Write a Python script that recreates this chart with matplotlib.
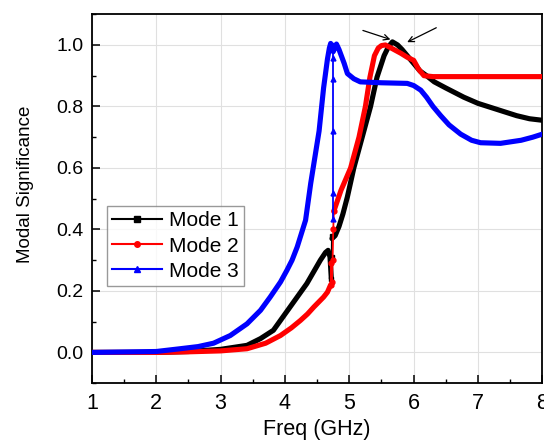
import numpy as np
import matplotlib
matplotlib.use("Agg")
import matplotlib.pyplot as plt
from matplotlib.lines import Line2D
from matplotlib.ticker import MultipleLocator

plt.rcParams['font.family'] = ['Liberation Sans', 'DejaVu Sans']

# ---- data ----
mode1_f = [1.0, 2.0, 2.5, 3.0, 3.41, 3.62, 3.82, 4.08, 4.34, 4.55, 4.63, 4.67, 4.70, 4.72,
           4.73, 4.78, 4.84, 4.90, 4.97, 5.07, 5.20, 5.33, 5.43, 5.54, 5.61, 5.67, 5.75, 5.82,
           5.9, 6.0, 6.1, 6.2, 6.32, 6.5, 6.78, 7.0, 7.3, 7.6, 7.8, 8.0]
mode1_y = [0.0, 0.0, 0.003, 0.01, 0.023, 0.045, 0.072, 0.148, 0.224, 0.30, 0.325, 0.332, 0.31, 0.24,
           0.37, 0.38, 0.41, 0.45, 0.506, 0.60, 0.70, 0.80, 0.895, 0.965, 0.995, 1.01, 1.0, 0.985,
           0.965, 0.94, 0.915, 0.90, 0.88, 0.86, 0.83, 0.81, 0.79, 0.77, 0.76, 0.755]

mode2_f = [1.0, 2.0, 2.5, 3.0, 3.41, 3.7, 3.93, 4.1, 4.24, 4.35, 4.45, 4.6, 4.66, 4.71,
           4.76, 4.87, 5.02, 5.15, 5.25, 5.32, 5.39, 5.45, 5.5, 5.56, 5.65, 5.8, 5.9, 6.0,
           6.08, 6.16, 6.3, 7.0, 8.0]
mode2_y = [0.0, 0.0, 0.002, 0.005, 0.012, 0.03, 0.055, 0.08, 0.104, 0.125, 0.148, 0.18, 0.196, 0.22,
           0.46, 0.527, 0.60, 0.70, 0.80, 0.895, 0.965, 0.99, 0.998, 1.0, 0.99, 0.973, 0.96, 0.95,
           0.92, 0.90, 0.897, 0.897, 0.897]

mode3_f = [1.0, 2.0, 2.37, 2.65, 2.89, 3.15, 3.41, 3.62, 3.77, 3.93, 4.03, 4.11, 4.19, 4.32, 4.4,
           4.53, 4.6, 4.66, 4.69, 4.71, 4.75, 4.8, 4.84, 4.92, 4.97, 5.07, 5.17, 5.5, 5.9,
           6.0, 6.11, 6.2, 6.3, 6.42, 6.55, 6.73, 6.9, 7.04, 7.35, 7.67, 7.85, 8.0]
mode3_y = [0.0, 0.003, 0.012, 0.019, 0.03, 0.055, 0.093, 0.137, 0.18, 0.229, 0.267, 0.30, 0.343, 0.43, 0.55,
           0.72, 0.86, 0.954, 0.99, 1.005, 0.978, 1.003, 0.985, 0.94, 0.907, 0.89, 0.88, 0.877, 0.875,
           0.868, 0.853, 0.83, 0.80, 0.77, 0.74, 0.71, 0.69, 0.682, 0.68, 0.69, 0.70, 0.71]

# thin jump segments with markers
mode1_jump_f = [4.72, 4.725, 4.73]
mode1_jump_y = [0.24, 0.31, 0.38]
mode2_jump_f = [4.71, 4.72, 4.73, 4.74, 4.75, 4.76]
mode2_jump_y = [0.22, 0.29, 0.23, 0.30, 0.40, 0.46]
mode3_jump_f = [4.75, 4.75, 4.75, 4.75, 4.75, 4.75]
mode3_jump_y = [1.0, 0.957, 0.89, 0.72, 0.52, 0.435]

labels = ['Mode 1', 'Mode 2', 'Mode 3']
colors = ['black', '#ff0000', '#0000ff']
markers = ['s', 'o', '^']

fig = plt.figure(figsize=(5.44, 4.44), dpi=100)
ax = fig.add_axes([0.169, 0.137, 0.828, 0.831])

series = [(mode1_f, mode1_y, mode1_jump_f, mode1_jump_y),
          (mode2_f, mode2_y, mode2_jump_f, mode2_jump_y),
          (mode3_f, mode3_y, mode3_jump_f, mode3_jump_y)]

for i in range(3):
    f, y, jf, jy = series[i]
    f = np.array(f); y = np.array(y)
    d = np.diff(y)
    if i != 2 and np.any(d > 0.12):
        k = int(np.argmax(d > 0.12))
        ax.plot(f[:k + 1], y[:k + 1], color=colors[i], lw=3.7,
                solid_capstyle='round', solid_joinstyle='round', zorder=2 + i)
        ax.plot(f[k + 1:], y[k + 1:], color=colors[i], lw=3.7,
                solid_capstyle='round', solid_joinstyle='round', zorder=2 + i)
    else:
        ax.plot(f, y, color=colors[i], lw=3.7, solid_capstyle='round',
                solid_joinstyle='round', zorder=2 + i)
    ax.plot(jf, jy, color=colors[i], lw=1.3, marker=markers[i], ms=3.5, zorder=2 + i)

# arrows pointing at the peak
ax.annotate('', xy=(5.68, 1.015), xytext=(5.17, 1.05),
            arrowprops=dict(arrowstyle='->', color='black', lw=0.9), zorder=6)
ax.annotate('', xy=(5.86, 1.005), xytext=(6.39, 1.06),
            arrowprops=dict(arrowstyle='->', color='black', lw=0.9), zorder=6)

ax.set_xlim(1, 8)
ax.set_ylim(-0.1, 1.1)
ax.xaxis.set_major_locator(MultipleLocator(1))
ax.xaxis.set_minor_locator(MultipleLocator(0.5))
ax.yaxis.set_minor_locator(MultipleLocator(0.1))
ax.set_yticks([0.0, 0.2, 0.4, 0.6, 0.8, 1.0])
ax.set_yticklabels(['0.0', '0.2', '0.4', '0.6', '0.8', '1.0'])

ax.grid(True, which='major', color='#e0e0e0', lw=0.8, zorder=0)
ax.set_axisbelow(True)
ax.tick_params(which='major', direction='in', length=6, width=1.1,
               top=False, right=False)
ax.tick_params(axis='y', which='major', labelsize=14, pad=6)
ax.tick_params(axis='x', which='major', labelsize=15.5, pad=7)
ax.tick_params(which='minor', direction='in', length=3, width=1.0, top=False, right=False)
for s in ax.spines.values():
    s.set_linewidth(1.3)

ax.set_xlabel('Freq (GHz)', fontsize=15.5)
ax.xaxis.set_label_coords(0.5, -0.098)
ax.set_ylabel('Modal Significance', fontsize=13.5)
ax.yaxis.set_label_coords(-0.128, 0.54)

handles = [Line2D([0], [0], color=colors[i], lw=1.5, marker=markers[i], ms=4) for i in range(3)]
leg = ax.legend(handles, labels, loc='upper left', bbox_to_anchor=(0.033, 0.48),
                fontsize=15, frameon=True, fancybox=False, edgecolor='#808080',
                handlelength=2.4, handletextpad=0.35, labelspacing=0.3, borderpad=0.25,
                borderaxespad=0.0, numpoints=1)
leg.get_frame().set_linewidth(1.0)

fig.savefig('out.png', dpi=100)
